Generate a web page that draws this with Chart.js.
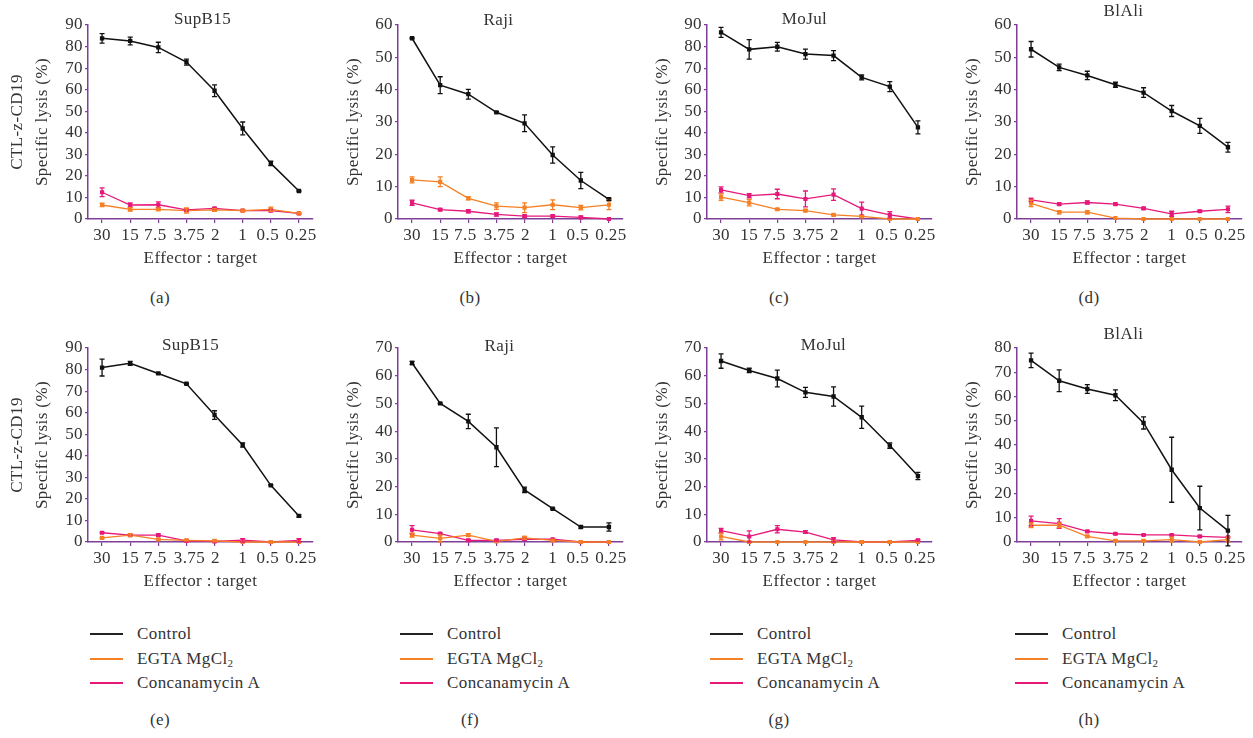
<!DOCTYPE html>
<html>
<head>
<meta charset="utf-8">
<script src="https://cdn.jsdelivr.net/npm/chart.js@4.4.1/dist/chart.umd.min.js"></script>
<style>
  body { margin: 0; background: #fff; width: 1253px; height: 738px; position: relative; overflow: hidden;
         font-family: "Liberation Serif", serif; color: #333; letter-spacing: 0.4px; }
  canvas { position: absolute; }
  .lbl { position: absolute; font-size: 17px; transform: translate(-50%, -50%); white-space: nowrap; }
  .legend { position: absolute; font-size: 17px; }
  .legend .row { position: relative; height: 24.5px; line-height: 24.5px; white-space: nowrap; }
  .legend .swatch { position: absolute; left: 0; top: 11px; width: 33px; height: 2px; }
  .legend .txt { position: absolute; left: 47px; top: 0; }
  sub { font-size: 11px; vertical-align: -3px; line-height: 0; }
</style>
</head>
<body>
<script>
// categories and tick labels
const ratios = ['30', '15', '7.5', '3.75', '2', '1', '0.5', '0.25'];
const cellLines = ['SupB15', 'Raji', 'MoJul', 'BlAli'];

// (a) SupB15
const aControl = [83.8, 82.6, 79.6, 72.8, 59.5, 42.0, 25.8, 13.0];
const aControlErr = [2.2, 1.8, 2.4, 1.4, 2.7, 3.0, 1.0, 0.3];
const aEgta = [6.5, 4.5, 4.5, 3.9, 4.2, 3.9, 4.5, 2.6];
const aEgtaErr = [0.8, 0.8, 0.6, 1.2, 0.6, 0.3, 1.0, 0.3];
const aConc = [12.4, 6.5, 6.6, 4.2, 4.9, 3.9, 3.9, 2.6];
const aConcErr = [2.0, 1.0, 1.3, 0.5, 0.4, 0.3, 0.5, 0.3];

// (b) Raji
const bControl = [55.9, 41.4, 38.6, 33.0, 29.6, 19.8, 11.9, 6.1];
const bControlErr = [0.2, 2.6, 1.5, 0.2, 2.6, 2.5, 2.5, 0.3];
const bEgta = [12.1, 11.5, 6.4, 4.0, 3.5, 4.4, 3.5, 4.4];
const bEgtaErr = [0.9, 1.5, 0.5, 1.0, 1.5, 1.5, 0.7, 1.5];
const bConc = [5.0, 2.9, 2.4, 1.4, 0.9, 0.9, 0.5, 0];
const bConcErr = [0.8, 0.3, 0.5, 0.5, 0.3, 0.3, 0.4, 0];

// (c) MoJul
const cControl = [86.6, 78.7, 79.9, 76.5, 75.8, 65.7, 61.4, 42.5];
const cControlErr = [2.3, 4.5, 2.0, 2.3, 2.3, 1.2, 2.3, 3.0];
const cEgta = [10.2, 7.6, 4.5, 3.9, 1.9, 1.2, 0, 0];
const cEgtaErr = [1.5, 1.5, 0.3, 0.5, 0.4, 0.4, 0, 0];
const cConc = [13.5, 10.8, 11.6, 9.3, 11.3, 4.8, 1.9, 0];
const cConcErr = [1.4, 1.0, 2.2, 3.7, 2.7, 3.0, 1.5, 0];

// (d) BlAli
const dControl = [52.5, 46.9, 44.4, 41.5, 39.1, 33.4, 28.8, 22.2];
const dControlErr = [2.4, 1.0, 1.3, 0.8, 1.5, 1.7, 2.3, 1.5];
const dEgta = [4.8, 2.1, 2.1, 0.3, 0, 0, 0, 0];
const dEgtaErr = [1.0, 0.5, 0.5, 0, 0, 0, 0, 0];
const dConc = [5.9, 4.6, 5.1, 4.6, 3.3, 1.6, 2.4, 3.0];
const dConcErr = [0.5, 0.3, 0.5, 0.3, 0.3, 0.8, 0.3, 1.0];

// (e) SupB15
const eControl = [80.9, 82.9, 78.2, 73.4, 58.9, 45.0, 26.3, 12.1];
const eControlErr = [3.9, 0.9, 0.3, 0.3, 2.0, 1.0, 0.3, 0.5];
const eEgta = [1.9, 3.2, 1.2, 0.8, 0.5, 0, 0, 0];
const eEgtaErr = [0.3, 0.5, 0.3, 0.3, 0.3, 0, 0, 0];
const eConc = [4.3, 3.2, 3.2, 0.5, 0.3, 0.8, 0, 0.8];
const eConcErr = [0.3, 0.3, 0.5, 0.3, 0.3, 0.8, 0, 0.8];

// (f) Raji
const fControl = [64.6, 50.0, 43.5, 34.2, 18.8, 12.0, 5.4, 5.4];
const fControlErr = [0.6, 0.2, 2.6, 7.0, 1.0, 0.2, 0.4, 1.5];
const fEgta = [2.5, 1.3, 2.5, 0.2, 1.5, 0.6, 0, 0];
const fEgtaErr = [0.7, 1.3, 0.5, 0, 0.5, 0.3, 0, 0];
const fConc = [4.4, 3.0, 0.6, 0.6, 1.0, 1.0, 0, 0];
const fConcErr = [1.5, 0.2, 0.3, 0.3, 0.3, 0.2, 0, 0];

// (g) MoJul
const gControl = [65.3, 61.9, 59.0, 54.0, 52.5, 45.0, 34.8, 23.8];
const gControlErr = [2.6, 0.8, 3.0, 1.8, 3.5, 4.0, 1.0, 1.3];
const gEgta = [2.0, 0, 0, 0, 0, 0, 0, 0];
const gEgtaErr = [1.2, 0, 0, 0, 0, 0, 0, 0];
const gConc = [4.1, 2.0, 4.6, 3.6, 0.8, 0, 0, 0.6];
const gConcErr = [0.8, 2.0, 1.3, 0.5, 0.8, 0, 0, 0.3];

// (h) BlAli
const hControl = [74.9, 66.5, 63.1, 60.5, 49.1, 29.8, 14.0, 4.7];
const hControlErr = [3.0, 4.5, 1.8, 2.2, 2.5, 13.4, 9.0, 6.3];
const hEgta = [6.9, 6.9, 2.3, 0.5, 0.5, 1.0, 0, 1.0];
const hEgtaErr = [1.0, 1.0, 0.3, 0.3, 0.3, 1.0, 0, 1.0];
const hConc = [8.7, 7.6, 4.4, 3.4, 2.9, 2.9, 2.3, 1.9];
const hConcErr = [2.0, 2.0, 0.3, 0.3, 0.2, 0.2, 0.3, 0.2];

const yMaxes = [90, 60, 90, 60, 90, 70, 70, 80];

// colours
const PURPLE = '#7F3F98';
const TEXT = '#333';
const BLACK = '#111';
const ORANGE = '#F58025';
const PINK = '#E6197A';
const FONT = '"Liberation Serif", serif';

// a little extra tracking, the original lettering is wide
const spacing = {
  id: 'spacing',
  beforeUpdate(chart) { chart.ctx.letterSpacing = '0.4px'; },
  beforeDraw(chart) { chart.ctx.letterSpacing = '0.4px'; }
};

// nudge crowded x labels apart like the original figure does
const labelNudge = [0, 0, -3, 3, 1, 0, -3, 2];
const nudgeLabels = {
  id: 'nudgeLabels',
  beforeDraw(chart) {
    const items = chart.scales.x.getLabelItems(chart.chartArea);
    items.forEach((it, i) => { it.options.translation[0] += labelNudge[i] || 0; });
  }
};

// error bars drawn through the y scale
const errorBars = {
  id: 'errorBars',
  afterDatasetsDraw(chart) {
    const ctx = chart.ctx;
    const y = chart.scales.y;
    for (let i = chart.data.datasets.length - 1; i >= 0; i--) {
      const ds = chart.data.datasets[i];
      const meta = chart.getDatasetMeta(i);
      ctx.save();
      ctx.strokeStyle = ds.borderColor;
      ctx.lineWidth = 1.3;
      meta.data.forEach((pt, j) => {
        const e = ds.errors[j];
        if (!e) return;
        const top = y.getPixelForValue(ds.data[j] + e);
        const bot = y.getPixelForValue(ds.data[j] - e);
        ctx.beginPath();
        ctx.moveTo(pt.x, top); ctx.lineTo(pt.x, bot);
        ctx.moveTo(pt.x - 2.5, top); ctx.lineTo(pt.x + 2.5, top);
        ctx.moveTo(pt.x - 2.5, bot); ctx.lineTo(pt.x + 2.5, bot);
        ctx.stroke();
      });
      ctx.restore();
    }
  }
};

// cell line name inside the top of the plot
const panelTitle = {
  id: 'panelTitle',
  afterDraw(chart, args, opts) {
    const { ctx, chartArea } = chart;
    ctx.save();
    ctx.font = '17px ' + FONT;
    ctx.fillStyle = TEXT;
    ctx.textAlign = 'center';
    ctx.textBaseline = 'middle';
    ctx.fillText(opts.text, (chartArea.left + chartArea.right) / 2 + opts.dx, chartArea.top + opts.dy);
    ctx.restore();
  }
};

function series(label, data, errors, color, width) {
  return {
    label: label, data: data, errors: errors,
    borderColor: color, backgroundColor: color, borderWidth: width,
    pointStyle: 'rect', pointRadius: 2, tension: 0, clip: false
  };
}

const Y_W = 88;
const panels = [
  { lbl: 'a', axisX: 88, top: 0, dx: 2, dy: -5, two: true },
  { lbl: 'b', axisX: 398, top: 0, dx: -12, dy: -4 },
  { lbl: 'c', axisX: 707, top: 0, dx: -15, dy: -5 },
  { lbl: 'd', axisX: 1017, top: 0, dx: -6, dy: -13 },
  { lbl: 'e', axisX: 88, top: 323, dx: -10, dy: -2, two: true },
  { lbl: 'f', axisX: 398, top: 323, dx: -11, dy: -1 },
  { lbl: 'g', axisX: 707, top: 323, dx: 4, dy: -2 },
  { lbl: 'h', axisX: 1017, top: 323, dx: -6, dy: -13 }
];
const allData = [
  [aControl, aControlErr, aEgta, aEgtaErr, aConc, aConcErr],
  [bControl, bControlErr, bEgta, bEgtaErr, bConc, bConcErr],
  [cControl, cControlErr, cEgta, cEgtaErr, cConc, cConcErr],
  [dControl, dControlErr, dEgta, dEgtaErr, dConc, dConcErr],
  [eControl, eControlErr, eEgta, eEgtaErr, eConc, eConcErr],
  [fControl, fControlErr, fEgta, fEgtaErr, fConc, fConcErr],
  [gControl, gControlErr, gEgta, gEgtaErr, gConc, gConcErr],
  [hControl, hControlErr, hEgta, hEgtaErr, hConc, hConcErr]
];

panels.forEach((p, k) => {
  const d = allData[k];
  const canvas = document.createElement('canvas');
  canvas.width = Y_W + 225 + 14;
  canvas.height = 272;
  canvas.style.left = (p.axisX - Y_W) + 'px';
  canvas.style.top = p.top + 'px';
  document.body.appendChild(canvas);

  const yTitle = p.two
    ? { display: true, text: ['CTL-z-CD19', 'Specific lysis (%)'], color: TEXT,
        font: { family: FONT, size: 17, lineHeight: 1.47 }, padding: { top: 5.5, bottom: 0 } }
    : { display: true, text: 'Specific lysis (%)', color: TEXT,
        font: { family: FONT, size: 17, lineHeight: 1.2 }, padding: { top: 33.8, bottom: 0 } };

  new Chart(canvas, {
    type: 'line',
    data: {
      labels: ratios,
      datasets: [
        series('Control', d[0], d[1], BLACK, 1.5),
        series('EGTA MgCl2', d[2], d[3], ORANGE, 1.3),
        series('Concanamycin A', d[4], d[5], PINK, 1.3)
      ]
    },
    options: {
      responsive: false,
      animation: false,
      layout: { padding: { top: 25, right: 14, bottom: 0, left: 0 } },
      plugins: {
        legend: { display: false },
        tooltip: { enabled: false },
        panelTitle: { text: cellLines[k % 4], dx: p.dx, dy: p.dy }
      },
      scales: {
        x: {
          offset: true,
          grid: { drawOnChartArea: false, offset: false, tickLength: 4, color: PURPLE, lineWidth: 1.2 },
          border: { color: PURPLE, width: 1.5 },
          ticks: { color: TEXT, font: { family: FONT, size: 17 }, padding: 2, maxRotation: 0, autoSkip: false },
          title: { display: true, text: 'Effector : target', color: TEXT,
                   font: { family: FONT, size: 17 }, padding: { top: 0, bottom: 3 } },
          afterFit: s => { s.height = 53; }
        },
        y: {
          min: 0, max: yMaxes[k],
          grid: { drawOnChartArea: false, tickLength: 3, color: PURPLE, lineWidth: 1.2 },
          border: { color: PURPLE, width: 1.5 },
          ticks: { stepSize: 10, autoSkip: false, color: TEXT, font: { family: FONT, size: 17 }, padding: 2 },
          title: yTitle,
          afterFit: s => { s.width = Y_W; }
        }
      }
    },
    plugins: [spacing, nudgeLabels, errorBars, panelTitle]
  });

  const lab = document.createElement('div');
  lab.className = 'lbl';
  lab.textContent = '(' + p.lbl + ')';
  lab.style.left = (p.axisX + 72) + 'px';
  lab.style.top = (p.top === 0 ? 298 : 720) + 'px';
  document.body.appendChild(lab);
});

// legends under the second row
const legendItems = [
  { color: '#222', html: 'Control' },
  { color: ORANGE, html: 'EGTA MgCl<sub>2</sub>' },
  { color: PINK, html: 'Concanamycin A' }
];
[90, 400, 710, 1015].forEach(x => {
  const box = document.createElement('div');
  box.className = 'legend';
  box.style.left = x + 'px';
  box.style.top = '622px';
  legendItems.forEach(it => {
    const row = document.createElement('div');
    row.className = 'row';
    row.innerHTML = '<span class="swatch" style="background:' + it.color + '"></span><span class="txt">' + it.html + '</span>';
    box.appendChild(row);
  });
  document.body.appendChild(box);
});
</script>
</body>
</html>
